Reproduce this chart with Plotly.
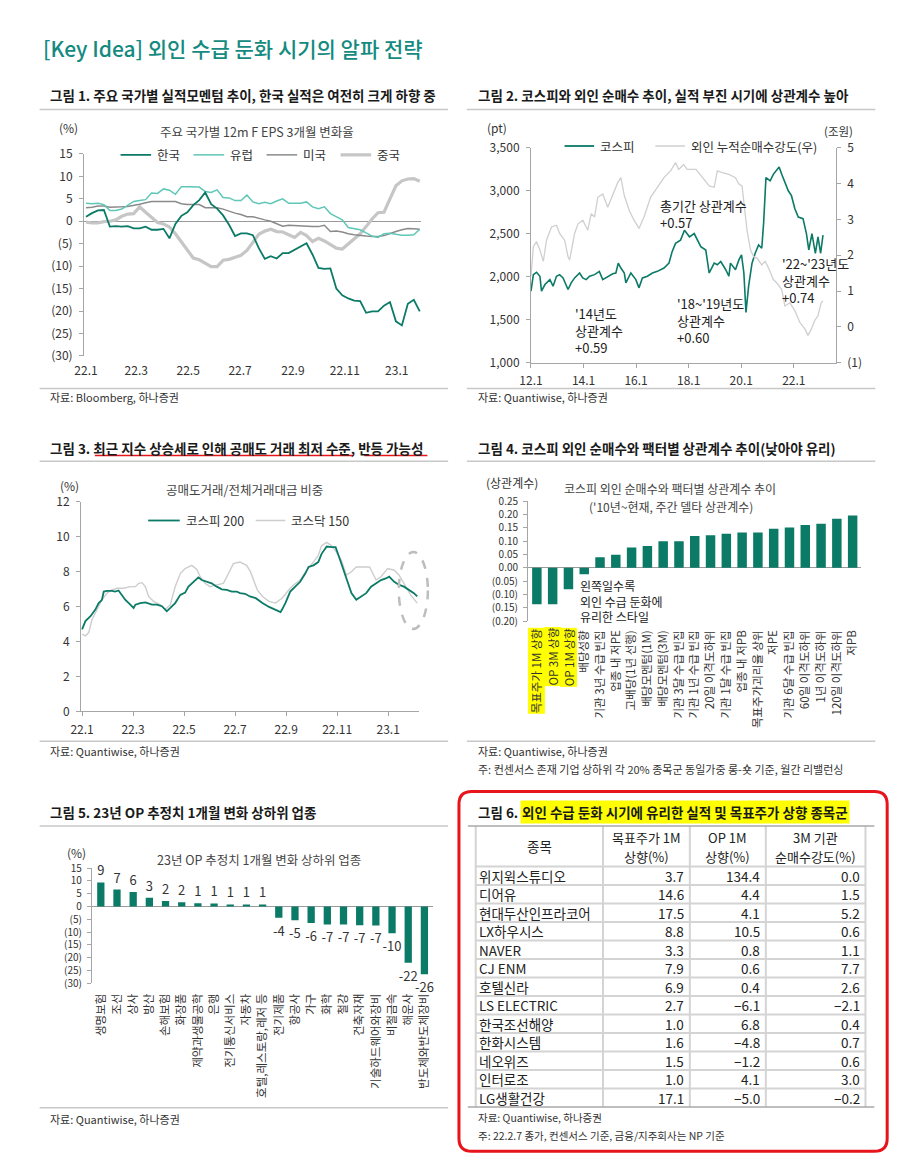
import plotly.graph_objects as go
import pandas as pd

W, H = 900, 1173
FONT = "Noto Sans CJK KR"
DARK = "#0b7a66"
AXC = "#a6a6a6"
TXT = "#333333"


def X(p):
    return p / W


def Y(p):
    return 1 - p / H


# ---------------- Chart 1 data ----------------
c1_dates = pd.date_range("2022-01-01", periods=57, freq="7D")
c1_names = ["한국", "유럽", "미국", "중국"]
c1_korea = [1.0, 1.8, 2.4, 2.5, -1.2, -1.1, -1.2, -1.1, -1.6, -1.6, -1.2, -1.9, -1.9, -1.7, -3.8, -0.6, 1.2, 2.0,
            3.6, 4.7, 6.4, 3.8, 2.8, 1.3, -0.8, -3.3, -2.7, -2.7, -3.1, -6.0, -8.4, -7.8, -8.3, -7.1, -7.1, -6.4,
            -5.6, -4.9, -7.4, -10.4, -10.6, -10.5, -15.0, -16.5, -17.2, -17.7, -17.8, -20.4, -20.1, -20.1, -18.8,
            -18.0, -22.3, -23.2, -18.4, -17.5, -20.1]
c1_europe = [4.0, 3.9, 4.0, 3.7, 2.4, 2.4, 2.7, 3.6, 4.4, 4.6, 4.8, 6.3, 6.2, 7.2, 6.9, 6.0, 7.7, 7.7, 7.7, 7.6,
             6.6, 6.4, 7.0, 5.3, 5.2, 4.6, 4.6, 5.8, 4.3, 3.9, 4.2, 3.9, 4.5, 5.0, 4.0, 4.0, 4.0, 4.3, 3.2, 2.8,
             3.2, 1.7, 1.0, 0.3, -1.4, -1.6, -1.9, -2.6, -3.3, -3.6, -2.8, -2.7, -2.9, -3.1, -3.1, -3.0, -1.8]
c1_us = [3.0, 3.1, 3.4, 3.4, 3.1, 3.1, 3.2, 3.3, 3.5, 3.8, 4.1, 4.4, 4.4, 4.4, 4.5, 4.4, 3.9, 3.7, 3.7, 3.7, 3.0,
         3.0, 3.0, 2.7, 2.2, 1.8, 1.5, 1.0, 1.0, 0.6, 0.3, 0.0, -0.6, -1.1, -0.9, -1.0, -1.1, -1.2, -1.2, -1.2,
         -0.9, -2.3, -2.2, -2.4, -2.8, -3.0, -3.2, -3.3, -3.4, -3.4, -3.2, -2.7, -2.3, -1.9, -1.6, -1.7, -1.8]
c1_china = [-0.2, -0.4, -0.4, -0.1, 0.0, 0.3, 1.1, 1.6, 1.7, 3.2, 2.0, 0.9, -0.3, -0.6, -1.3, -2.8, -4.7, -6.3,
            -8.2, -8.6, -9.3, -10.1, -10.1, -8.7, -8.5, -8.1, -7.6, -6.5, -4.8, -2.9, -2.2, -1.8, -2.3, -2.4,
            -3.0, -3.6, -2.5, -3.2, -4.5, -3.8, -4.4, -5.3, -6.0, -6.2, -5.0, -3.9, -2.8, -1.2, 0.5, 1.9, 2.0,
            5.0, 7.9, 9.0, 9.4, 9.5, 8.9]
c1_ytickvals = [-30, -25, -20, -15, -10, -5, 0, 5, 10, 15]
c1_yticktext = ["(30)", "(25)", "(20)", "(15)", "(10)", "(5)", "0", "5", "10", "15"]
c1_xtickvals = ["2022-01-01", "2022-03-01", "2022-05-01", "2022-07-01", "2022-09-01", "2022-11-01", "2023-01-01"]
c1_xticktext = ["22.1", "22.3", "22.5", "22.7", "22.9", "22.11", "23.1"]

# ---------------- Chart 2 data ----------------
c2_names = ["코스피", "외인 누적순매수강도(우)"]
c2_kospi_t = [2012.00, 2012.09, 2012.21, 2012.34, 2012.40, 2012.53, 2012.72, 2012.84, 2012.97, 2013.09, 2013.22,
              2013.41, 2013.53, 2013.66, 2013.85, 2013.97, 2014.10, 2014.23, 2014.42, 2014.60, 2014.73, 2014.92,
              2015.11, 2015.23, 2015.32, 2015.42, 2015.55, 2015.61, 2015.80, 2015.99, 2016.11, 2016.24, 2016.43,
              2016.62, 2016.81, 2017.06, 2017.25, 2017.37, 2017.50, 2017.69, 2017.84, 2018.03, 2018.21, 2018.46,
              2018.65, 2018.78, 2018.97, 2019.09, 2019.22, 2019.41, 2019.53, 2019.59, 2019.78, 2019.91, 2020.01,
              2020.10, 2020.18, 2020.28, 2020.41, 2020.53, 2020.66, 2020.78, 2020.85, 2020.94, 2021.10, 2021.22,
              2021.35, 2021.44, 2021.54, 2021.66, 2021.79, 2021.91, 2022.04, 2022.17, 2022.35, 2022.48, 2022.57,
              2022.69, 2022.82, 2022.92, 2023.02, 2023.11]
c2_kospi_v = [1832, 2024, 2051, 2005, 1832, 1909, 1966, 1890, 2005, 2024, 1986, 1851, 1928, 1986, 2043, 1986, 1966,
              2005, 2024, 2062, 1966, 2005, 2035, 2043, 2158, 2101, 2043, 1928, 2043, 1966, 1870, 1986, 2005, 2043,
              2062, 2101, 2158, 2292, 2388, 2426, 2541, 2465, 2503, 2350, 2311, 2043, 2158, 2139, 2177, 2081, 2005,
              2158, 2081, 2196, 2254, 2043, 1583, 1890, 2158, 2273, 2369, 2331, 2618, 3155, 3117, 3193, 3251, 3278,
              3193, 3097, 3001, 2944, 2791, 2695, 2676, 2503, 2311, 2503, 2273, 2465, 2273, 2484]
c2_frgn_t = [2012.00, 2012.09, 2012.21, 2012.34, 2012.47, 2012.59, 2012.78, 2012.97, 2013.09, 2013.28, 2013.41,
             2013.47, 2013.66, 2013.79, 2013.97, 2014.16, 2014.29, 2014.42, 2014.54, 2014.73, 2014.92, 2015.11,
             2015.30, 2015.42, 2015.55, 2015.74, 2015.92, 2016.11, 2016.30, 2016.55, 2016.81, 2017.06, 2017.31,
             2017.50, 2017.62, 2017.81, 2017.94, 2018.03, 2018.28, 2018.53, 2018.78, 2018.97, 2019.09, 2019.28,
             2019.53, 2019.78, 2019.91, 2020.03, 2020.10, 2020.22, 2020.35, 2020.47, 2020.60, 2020.78, 2020.91,
             2021.04, 2021.22, 2021.35, 2021.54, 2021.66, 2021.85, 2022.04, 2022.23, 2022.42, 2022.54, 2022.67,
             2022.79, 2022.92, 2023.04, 2023.11]
c2_frgn_v = [1.41, 2.24, 2.38, 2.15, 1.83, 2.42, 2.79, 2.84, 2.61, 2.42, 1.96, 1.87, 2.61, 2.88, 2.98, 2.70, 3.16,
             3.07, 3.62, 3.71, 3.34, 3.71, 4.03, 4.17, 3.67, 3.25, 2.98, 2.75, 3.07, 3.62, 3.90, 4.17, 4.36, 4.59,
             4.40, 4.54, 4.40, 4.40, 4.40, 4.17, 3.94, 3.90, 4.36, 4.31, 4.26, 4.17, 3.99, 3.94, 3.44, 2.70, 2.15,
             1.96, 1.92, 1.73, 1.83, 1.64, 1.32, 1.23, 1.04, 0.58, 0.67, 0.45, 0.12, -0.06, -0.24, -0.06, 0.17,
             0.31, 0.67, 0.72]
c2_xtickvals = [2012, 2014, 2016, 2018, 2020, 2022]
c2_xticktext = ["12.1", "14.1", "16.1", "18.1", "20.1", "22.1"]
c2_ytickvals = [1000, 1500, 2000, 2500, 3000, 3500]
c2_y2tickvals = [-1, 0, 1, 2, 3, 4, 5]
c2_y2ticktext = ["(1)", "0", "1", "2", "3", "4", "5"]
c2_notes = ["총기간 상관계수<br>+0.57", "'14년도<br>상관계수<br>+0.59", "'18~'19년도<br>상관계수<br>+0.60",
            "'22~'23년도<br>상관계수<br>+0.74"]

# ---------------- Chart 3 data ----------------
c3_names = ["코스피 200", "코스닥 150"]
c3_k200_t = [0, 0.13, 0.33, 0.52, 0.65, 0.78, 0.85, 0.98, 1.17, 1.30, 1.43, 1.50, 1.69, 1.89, 2.02, 2.09, 2.28,
             2.48, 2.61, 2.74, 2.93, 3.13, 3.26, 3.32, 3.46, 3.65, 3.85, 4.04, 4.17, 4.37, 4.56, 4.69, 4.89, 5.08,
             5.28, 5.48, 5.67, 5.87, 6.06, 6.19, 6.39, 6.58, 6.81, 7.07, 7.33, 7.58, 7.78, 7.84, 7.97, 8.16, 8.36,
             8.55, 8.75, 8.88, 9.07, 9.26, 9.39, 9.59, 9.78, 9.94, 10.10, 10.30, 10.43, 10.56, 10.75, 10.95, 11.14,
             11.33, 11.53, 11.72, 11.91, 12.04, 12.24, 12.43, 12.62, 12.82, 13.01, 13.14]
c3_k200_v = [4.70, 5.17, 5.45, 5.83, 6.20, 6.39, 6.86, 6.90, 6.90, 6.86, 6.92, 6.77, 6.39, 6.11, 5.92, 6.11, 6.20,
             6.24, 6.17, 6.11, 6.11, 6.02, 5.83, 5.73, 5.92, 6.20, 6.67, 6.80, 7.14, 7.42, 7.67, 7.52, 7.42, 7.33,
             7.14, 6.99, 6.95, 6.86, 6.86, 6.77, 6.73, 6.58, 6.48, 6.20, 5.98, 5.83, 5.68, 5.83, 6.20, 6.86, 7.14,
             7.42, 7.89, 8.27, 8.36, 8.55, 9.02, 9.44, 9.40, 9.40, 8.74, 7.89, 7.33, 6.77, 6.39, 6.58, 6.77, 7.14,
             7.33, 7.52, 7.61, 7.71, 7.42, 7.24, 7.14, 6.95, 6.77, 6.58]
c3_kq_t = [0, 0.13, 0.26, 0.39, 0.59, 0.78, 0.98, 1.17, 1.37, 1.63, 1.89, 2.09, 2.22, 2.35, 2.48, 2.61, 2.80, 3.06,
           3.26, 3.46, 3.65, 3.85, 4.04, 4.30, 4.50, 4.63, 4.82, 5.02, 5.28, 5.54, 5.74, 5.93, 6.19, 6.45, 6.60,
           6.75, 6.87, 7.07, 7.33, 7.58, 7.84, 8.10, 8.29, 8.55, 8.81, 9.07, 9.26, 9.39, 9.59, 9.78, 9.97, 10.17,
           10.36, 10.56, 10.75, 11.01, 11.27, 11.53, 11.72, 11.98, 12.24, 12.43, 12.62, 12.88, 13.14]
c3_kq_v = [4.42, 4.32, 4.51, 5.26, 5.83, 6.39, 6.77, 6.95, 7.05, 7.05, 7.14, 7.14, 7.33, 7.37, 7.14, 6.58, 6.30,
           6.11, 5.83, 6.11, 7.14, 7.89, 8.18, 8.36, 8.12, 7.71, 7.33, 7.14, 7.24, 7.33, 7.89, 8.46, 8.55, 8.36,
           8.00, 7.45, 6.95, 6.58, 6.30, 6.20, 6.48, 6.95, 7.24, 7.52, 8.08, 8.55, 8.93, 9.49, 9.68, 9.49, 9.12,
           8.65, 7.80, 7.99, 8.27, 8.27, 8.27, 7.52, 7.71, 8.18, 8.08, 7.80, 7.33, 6.67, 6.20]
c3_xtickvals = [0, 2, 4, 6, 8, 10, 12]
c3_xticktext = ["22.1", "22.3", "22.5", "22.7", "22.9", "22.11", "23.1"]
c3_ytickvals = [0, 2, 4, 6, 8, 10, 12]

# ---------------- Chart 4 data ----------------
c4_factors = ["목표주가 1M 상향", "OP 3M 상향", "OP 1M 상향", "배당성향", "기관 3년 수급 빈집", "업종 내 저PE",
              "고배당(1년 선행)", "배당모멘텀(1M)", "배당모멘텀(3M)", "기관 3달 수급 빈집", "기관 1년 수급 빈집",
              "20일 이격도하위", "기관 1달 수급 빈집", "업종 내 저PB", "목표주가괴리율 상위", "저PE",
              "기관 6달 수급 빈집", "60일 이격도하위", "1년 이격도하위", "120일 이격도하위", "저PB"]
c4_corr = [-0.137, -0.137, -0.081, -0.025, 0.039, 0.049, 0.076, 0.081, 0.099, 0.099, 0.119, 0.122, 0.127,
           0.132, 0.132, 0.146, 0.151, 0.160, 0.165, 0.184, 0.196]
c4_highlight = 3
c4_ytickvals = [-0.20, -0.15, -0.10, -0.05, 0.0, 0.05, 0.10, 0.15, 0.20, 0.25]
c4_yticktext = ["(0.20)", "(0.15)", "(0.10)", "(0.05)", "0.00", "0.05", "0.10", "0.15", "0.20", "0.25"]

# ---------------- Chart 5 data ----------------
c5_sectors = ["생명보험", "조선", "상사", "방산", "손해보험", "화장품", "제약과생물공학", "은행", "전기통신서비스",
              "자동차", "호텔,레스토랑,레저 등", "전기제품", "항공사", "가구", "화학", "철강", "건축자재",
              "기술하드웨어와장비", "비철금속", "해운사", "반도체와반도체장비"]
c5_change = [9.4, 6.6, 5.7, 3.4, 2.2, 1.7, 1.3, 1.2, 0.8, 0.8, 0.8, -4.4, -5.4, -6.4, -7.0, -7.0, -7.3, -7.4,
             -10.4, -21.9, -26.4]
c5_ytickvals = [-30, -25, -20, -15, -10, -5, 0, 5, 10, 15]
c5_yticktext = ["(30)", "(25)", "(20)", "(15)", "(10)", "(5)", "0", "5", "10", "15"]

# ---------------- Chart 6 data ----------------
c6_header = ["종목", "목표주가 1M<br>상향(%)", "OP 1M<br>상향(%)", "3M 기관<br>순매수강도(%)"]
c6_names = ["위지윅스튜디오", "디어유", "현대두산인프라코어", "LX하우시스", "NAVER", "CJ ENM", "호텔신라",
            "LS ELECTRIC", "한국조선해양", "한화시스템", "네오위즈", "인터로조", "LG생활건강"]
c6_target = [3.7, 14.6, 17.5, 8.8, 3.3, 7.9, 6.9, 2.7, 1.0, 1.6, 1.5, 1.0, 17.1]
c6_op = [134.4, 4.4, 4.1, 10.5, 0.8, 0.6, 0.4, -6.1, 6.8, -4.8, -1.2, 4.1, -5.0]
c6_inst = [0.0, 1.5, 5.2, 0.6, 1.1, 7.7, 2.6, -2.1, 0.4, 0.7, 0.6, 3.0, -0.2]


def fmt(v):
    return f"{v:.1f}".replace("-", "\u2212")


fig = go.Figure()

# ---- chart 1 traces
c1_series = [c1_korea, c1_europe, c1_us, c1_china]
c1_colors = [DARK, "#5ec7b7", "#8a8a8a", "#c6c6c6"]
c1_widths = [1.8, 1.5, 1.5, 3.2]
for i in [3, 2, 1, 0]:
    fig.add_trace(go.Scatter(x=c1_dates, y=c1_series[i], name=c1_names[i], mode="lines",
                             line=dict(color=c1_colors[i], width=c1_widths[i]), xaxis="x", yaxis="y"))

# ---- chart 2 traces
fig.add_trace(go.Scatter(x=c2_frgn_t, y=c2_frgn_v, name=c2_names[1], mode="lines",
                         line=dict(color="#cfcfcf", width=1.3), xaxis="x2", yaxis="y3"))
fig.add_trace(go.Scatter(x=c2_kospi_t, y=c2_kospi_v, name=c2_names[0], mode="lines",
                         line=dict(color=DARK, width=1.6), xaxis="x2", yaxis="y2"))

# ---- chart 3 traces
fig.add_trace(go.Scatter(x=c3_kq_t, y=c3_kq_v, name=c3_names[1], mode="lines",
                         line=dict(color="#cdcdcd", width=1.4), xaxis="x3", yaxis="y4"))
fig.add_trace(go.Scatter(x=c3_k200_t, y=c3_k200_v, name=c3_names[0], mode="lines",
                         line=dict(color=DARK, width=1.8), xaxis="x3", yaxis="y4"))

# ---- chart 4 bars
fig.add_trace(go.Bar(x=c4_factors, y=c4_corr, marker=dict(color=DARK, line=dict(width=0)), width=0.6,
                     xaxis="x4", yaxis="y5"))

# ---- chart 5 bars
c5_text = [f"{v:.0f}" for v in c5_change]
fig.add_trace(go.Bar(x=c5_sectors, y=c5_change, marker=dict(color=DARK, line=dict(width=0)), width=0.45,
                     text=c5_text, textposition="outside", cliponaxis=False, constraintext="none",
                     textfont=dict(family=FONT, size=13, color=TXT), xaxis="x5", yaxis="y6"))

tickfont = dict(family=FONT, size=12, color=TXT)
base_axis = dict(showgrid=False, zeroline=False, linecolor=AXC, linewidth=1, tickcolor=AXC,
                 tickfont=tickfont, fixedrange=True)

fig.update_layout(
    width=W, height=H, margin=dict(l=0, r=0, t=0, b=0),
    paper_bgcolor="white", plot_bgcolor="rgba(0,0,0,0)", showlegend=False,
    font=dict(family=FONT, color=TXT),
    # chart 1
    xaxis=dict(base_axis, domain=[X(73), X(415)], anchor="y", type="date",
               range=["2021-12-29 16:00", "2023-01-30"], showline=False, ticks="",
               tickvals=c1_xtickvals, ticktext=c1_xticktext, ticklabelstandoff=6),
    yaxis=dict(base_axis, domain=[Y(351), Y(146)], anchor="x", range=[-30, 15], showline=True,
               ticks="outside", ticklen=4, tickvals=c1_ytickvals, ticktext=c1_yticktext,
               zeroline=True, zerolinecolor="#9a9a9a", zerolinewidth=1, ticklabelstandoff=4),
    # chart 2
    xaxis2=dict(base_axis, domain=[X(526), X(835)], anchor="y2", range=[2012, 2023.6], showline=True,
                ticks="outside", ticklen=4, tickvals=c2_xtickvals, ticktext=c2_xticktext,
                ticklabelstandoff=3),
    yaxis2=dict(base_axis, domain=[Y(357.7), Y(140)], anchor="x2", range=[1000, 3500], showline=True,
                ticks="outside", ticklen=4, tickvals=c2_ytickvals, tickformat=",", ticklabelstandoff=4),
    yaxis3=dict(base_axis, overlaying="y2", side="right", anchor="x2", range=[-1, 5], showline=True,
                ticks="outside", ticklen=4, tickvals=c2_y2tickvals, ticktext=c2_y2ticktext,
                ticklabelstandoff=4),
    # chart 3
    xaxis3=dict(base_axis, domain=[X(70), X(412)], anchor="y4", range=[-0.04, 13.19], showline=True,
                ticks="outside", ticklen=4, tickvals=c3_xtickvals, ticktext=c3_xticktext,
                ticklabelstandoff=3),
    yaxis4=dict(base_axis, domain=[Y(711.7), Y(499)], anchor="x3", range=[0, 12], showline=True,
                ticks="outside", ticklen=4, tickvals=c3_ytickvals, ticklabelstandoff=4),
    # chart 4
    xaxis4=dict(base_axis, domain=[X(523), X(860)], anchor="y5", range=[-0.56, 20.5], showline=False,
                ticks="", tickangle=-90, tickvals=c4_factors,
                ticktext=[""] * c4_highlight + c4_factors[c4_highlight:],
                tickfont=dict(family=FONT, size=11.5, color=TXT), ticklabelstandoff=6),
    yaxis5=dict(base_axis, domain=[Y(620), Y(498.3)], anchor="x4", range=[-0.2, 0.25], showline=True,
                ticks="outside", ticklen=4, tickvals=c4_ytickvals, ticktext=c4_yticktext,
                tickfont=dict(family=FONT, size=10, color=TXT),
                zeroline=True, zerolinecolor="#9a9a9a", zerolinewidth=1, ticklabelstandoff=3),
    # chart 5
    xaxis5=dict(base_axis, domain=[X(81), X(427)], anchor="y6", range=[-0.55, 20.55], showline=False,
                ticks="", tickangle=-90, tickfont=dict(family=FONT, size=11.5, color=TXT),
                ticklabelstandoff=7),
    yaxis6=dict(base_axis, domain=[Y(987.7), Y(870.7)], anchor="x5", range=[-30, 15], showline=True,
                ticks="outside", ticklen=4, tickvals=c5_ytickvals, ticktext=c5_yticktext,
                tickfont=dict(family=FONT, size=10, color=TXT),
                zeroline=True, zerolinecolor="#9a9a9a", zerolinewidth=1, ticklabelstandoff=3),
)

annotations = []
shapes = []


def txt(x, y, text, size=12, color=TXT, xanchor="left", yanchor="middle", weight=None, **kw):
    f = dict(family=FONT, size=size, color=color)
    if weight:
        f["weight"] = weight
    annotations.append(dict(x=X(x), y=Y(y), xref="paper", yref="paper", text=text, showarrow=False,
                            xanchor=xanchor, yanchor=yanchor, font=f, **kw))


def seg(x0, x1, y0, y1, color="#c8c8c8", width=1.5, dash=None):
    ln = dict(color=color, width=width)
    if dash:
        ln["dash"] = dash
    shapes.append(dict(type="line", xref="paper", yref="paper", x0=X(x0), x1=X(x1), y0=Y(y0), y1=Y(y1),
                       line=ln))


def hline(x0, x1, y, color="#c8c8c8", width=1.5):
    seg(x0, x1, y, y, color, width)


# page heading
txt(29, 39, "[Key Idea] 외인 수급 둔화 시기의 알파 전략", size=21, color="#148a80", weight=500)

# chart titles
TW = 700
TC = "#1a1a1a"
txt(36, 86, "그림 1. 주요 국가별 실적모멘텀 추이, 한국 실적은 여전히 크게 하향 중", size=13.5, color=TC, weight=TW)
txt(470, 86, "그림 2. 코스피와 외인 순매수 추이, 실적 부진 시기에 상관계수 높아", size=13.5, color=TC, weight=TW)
txt(36, 444, "그림 3. 최근 지수 상승세로 인해 공매도 거래 최저 수준, 반등 가능성", size=13.5, color=TC, weight=TW)
txt(470, 444, "그림 4. 코스피 외인 순매수와 팩터별 상관계수 추이(낮아야 유리)", size=13.5, color=TC, weight=TW)
txt(36, 814, "그림 5. 23년 OP 추정치 1개월 변화 상하위 업종", size=13.5, color=TC, weight=TW)
txt(470, 814, "그림 6.", size=13.5, color=TC, weight=TW)
txt(515, 814, "외인 수급 둔화 시기에 유리한 실적 및 목표주가 상향 종목군", size=13.5, color=TC, weight=TW,
    bgcolor="#ffff00", borderpad=1)

# red underline in chart 3 title
seg(84, 346, 452, 452, color="#e8141b", width=1.5)
seg(357, 421, 452, 452, color="#e8141b", width=1.5)

# dividers
for yy in [101, 384, 458, 742, 828, 1114]:
    hline(28, 442, yy)
for yy in [101, 384, 458, 742]:
    hline(461, 875, yy)

# sources / notes
txt(36, 393, "자료: Bloomberg, 하나증권", size=11)
txt(470, 393, "자료: Quantiwise, 하나증권", size=11)
txt(36, 752, "자료: Quantiwise, 하나증권", size=11)
txt(470, 752, "자료: Quantiwise, 하나증권", size=11)
txt(470, 770, "주: 컨센서스 존재 기업 상하위 각 20% 종목군 동일가중 롱-숏 기준, 월간 리밸런싱", size=11)
txt(36, 1125, "자료: Quantiwise, 하나증권", size=11)
txt(470, 1124, "자료: Quantiwise, 하나증권", size=10.5)
txt(470, 1142, "주: 22.2.7 종가, 컨센서스 기준, 금융/지주회사는 NP 기준", size=10.5)

# chart inner titles and units
txt(248, 123, "주요 국가별 12m F EPS 3개월 변화율", size=12.5, xanchor="center", color="#444")
txt(57, 119, "(%)", size=12, xanchor="center")
txt(492, 119, "(pt)", size=12, xanchor="center")
txt(838, 123, "(조원)", size=11.5, xanchor="center")
txt(236, 487, "공매도거래/전체거래대금 비중", size=12.5, xanchor="center", color="#444")
txt(58, 482, "(%)", size=12, xanchor="center")
txt(507, 479, "(상관계수)", size=12, xanchor="center")
txt(667, 486, "코스피 외인 순매수와 팩터별 상관계수 추이", size=12, xanchor="center", color="#444")
txt(668, 503.5, "('10년~현재, 주간 델타 상관계수)", size=12, xanchor="center", color="#444")
txt(250, 862, "23년 OP 추정치 1개월 변화 상하위 업종", size=12.5, xanchor="center", color="#444")
txt(65, 855, "(%)", size=12, xanchor="center")


# legends
def legend_item(x0, x1, y, color, width, name):
    seg(x0, x1, y, y, color, width)
    txt(x1 + 4, y, name, size=12.5)


leg1_x = [110, 184, 258, 333]
for i in range(4):
    legend_item(leg1_x[i], leg1_x[i] + 31, 147, c1_colors[i], c1_widths[i], c1_names[i])
legend_item(560, 590, 138, DARK, 1.8, c2_names[0])
legend_item(652, 682, 138, "#cfcfcf", 1.5, c2_names[1])
legend_item(138, 170, 518, DARK, 1.8, c3_names[0])
legend_item(247, 277, 518, "#cdcdcd", 1.5, c3_names[1])

# chart 2 notes
note_pos = [(655, 187), (569, 296), (672, 286), (778, 246)]
for (nx, ny), nt in zip(note_pos, c2_notes):
    txt(nx, ny, nt, size=13, yanchor="top", align="left", color="#222")

# chart 4 note
txt(574, 573, "왼쪽일수록<br>외인 수급 둔화에<br>유리한 스타일", size=12, yanchor="top", align="left", color="#222")

# chart 4 highlighted category labels
for i in range(c4_highlight):
    annotations.append(dict(x=c4_factors[i], xref="x4", y=Y(626), yref="paper", text=c4_factors[i],
                            showarrow=False, textangle=-90, xanchor="center", yanchor="top",
                            bgcolor="#ffff00", borderpad=0,
                            font=dict(family=FONT, size=11.5, color=TXT)))

# chart 3 dashed ellipse
shapes.append(dict(type="circle", xref="paper", yref="paper", x0=X(392), x1=X(421.5), y0=Y(628), y1=Y(550),
                   line=dict(color="#bdbdbd", width=2.5, dash="dash")))

# ---- chart 6 table (grid + cell texts from the data lists)
col_edges = [470, 599, 687, 764, 865]
head_top, head_bot, row_h = 828, 869, 18.78
n_rows = len(c6_names)
tbl_bot = head_bot + row_h * n_rows
GRID = "#d4d4d4"
for xe in col_edges:
    seg(xe, xe, head_top, tbl_bot, color=GRID, width=2)
for i in range(n_rows):
    hline(col_edges[0], col_edges[-1], head_bot + row_h * i, color=GRID, width=2)
hline(462, 874, head_top, color="#a8a8a8", width=1.5)
hline(462, 874, tbl_bot, color="#a8a8a8", width=1.5)

head_cx = [(col_edges[j] + col_edges[j + 1]) / 2 for j in range(4)]
for j, htxt in enumerate(c6_header):
    parts = htxt.split("<br>")
    if len(parts) == 1:
        txt(head_cx[j], (head_top + head_bot) / 2, parts[0], size=13.5, xanchor="center", color="#222",
            borderpad=0)
    else:
        txt(head_cx[j], 839.5, parts[0], size=13, xanchor="center", color="#222", borderpad=0)
        txt(head_cx[j], 859, parts[1], size=13, xanchor="center", color="#222", borderpad=0)
cols = [c6_names, [fmt(v) for v in c6_target], [fmt(v) for v in c6_op], [fmt(v) for v in c6_inst]]
for i in range(n_rows):
    yc = head_bot + row_h * (i + 0.5)
    txt(col_edges[0] + 2, yc, cols[0][i], size=13.5, color="#222", borderpad=0)
    for j in range(1, 4):
        txt(col_edges[j + 1] - 5, yc, cols[j][i], size=13.5, xanchor="right", color="#222", borderpad=0)

# red rounded frame for chart 6
l, r, t, b, rad = 453, 887, 793, 1158, 13
path = (f"M {X(l + rad)},{Y(t)} L {X(r - rad)},{Y(t)} Q {X(r)},{Y(t)} {X(r)},{Y(t + rad)} "
        f"L {X(r)},{Y(b - rad)} Q {X(r)},{Y(b)} {X(r - rad)},{Y(b)} "
        f"L {X(l + rad)},{Y(b)} Q {X(l)},{Y(b)} {X(l)},{Y(b - rad)} "
        f"L {X(l)},{Y(t + rad)} Q {X(l)},{Y(t)} {X(l + rad)},{Y(t)} Z")
shapes.append(dict(type="path", xref="paper", yref="paper", path=path, line=dict(color="#e8141b", width=3)))

fig.update_layout(annotations=annotations, shapes=shapes)
fig.write_html("out.html", config={"displayModeBar": False},
               post_script="document.body.style.margin='0';document.body.style.padding='0';"
                           "document.body.style.overflow='hidden';")
